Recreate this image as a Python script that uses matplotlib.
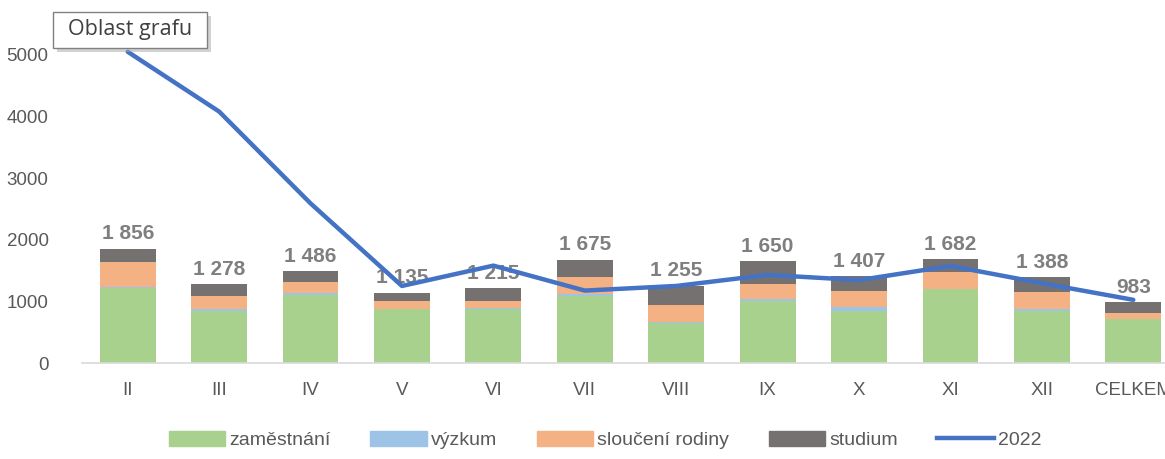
#!/usr/bin/env python
# -*- encoding: utf-8 -*-

'''stacked bars per month with 2022 line'''

import matplotlib
matplotlib.use('Agg')
import matplotlib.pyplot as plt
from matplotlib.patches import Patch, Rectangle
from matplotlib.lines import Line2D

plt.rcParams['font.family'] = ['Liberation Sans', 'DejaVu Sans']

months = ['II', 'III', 'IV', 'V', 'VI', 'VII', 'VIII', 'IX', 'X', 'XI', 'XII', 'CELKEM']
zamestnani = [1220, 845, 1100, 870, 875, 1090, 645, 1010, 840, 1200, 840, 715]
vyzkum = [10, 25, 30, 10, 10, 30, 25, 30, 65, 5, 30, 5]
slouceni = [415, 225, 190, 120, 120, 280, 270, 235, 260, 265, 290, 95]
studium = [211, 183, 166, 135, 210, 275, 315, 375, 242, 212, 228, 168]
totals = [1856, 1278, 1486, 1135, 1215, 1675, 1255, 1650, 1407, 1682, 1388, 983]
line_2022 = [5050, 4080, 2590, 1250, 1580, 1175, 1250, 1430, 1345, 1575, 1295, 1025]

c_green = '#A9D18E'
c_blue = '#9DC3E6'
c_orange = '#F4B183'
c_grey = '#767171'
c_line = '#4472C4'
c_text = '#595959'

W, H = 1165, 459


def plot(pic_name):
    fig = plt.figure(figsize=(W / 100, H / 100), dpi=100)
    ax = fig.add_axes([82 / W, 96 / H, 1097 / W, 363 / H])
    x = list(range(len(months)))
    w = 0.61

    bottom = [0] * len(x)
    for vals, col in [(zamestnani, c_green), (vyzkum, c_blue),
                      (slouceni, c_orange), (studium, c_grey)]:
        ax.bar(x, vals, w, bottom=bottom, color=col, zorder=2)
        bottom = [b + v for b, v in zip(bottom, vals)]

    for xi, top, t in zip(x, bottom, totals):
        ax.annotate('{:,}'.format(t).replace(',', ' '), (xi, top),
                    xytext=(0, 4), textcoords='offset points',
                    ha='center', va='bottom', fontsize=15, fontweight='bold',
                    color='#7F7F7F', zorder=3)

    ax.plot(x, line_2022, color=c_line, lw=3.2, zorder=4,
            solid_capstyle='round', solid_joinstyle='round')

    ax.set_xlim(-0.5, len(x) - 0.5)
    ax.set_ylim(0, 5890)
    ax.set_yticks(range(0, 5001, 1000))
    ax.set_xticks(x)
    ax.set_xticklabels(months)
    for s in ['top', 'right', 'left']:
        ax.spines[s].set_visible(False)
    ax.spines['bottom'].set_color('#D9D9D9')
    ax.spines['bottom'].set_linewidth(1.2)
    ax.tick_params(axis='both', length=0, labelsize=13.5, colors=c_text)
    ax.tick_params(axis='x', pad=14)
    ax.tick_params(axis='y', pad=24)

    handles = [Patch(color=c_green), Patch(color=c_blue),
               Patch(color=c_orange), Patch(color=c_grey),
               Line2D([], [], color=c_line, lw=3.2)]
    labels = ['zaměstnání', 'výzkum', 'sloučení rodiny', 'studium', '2022']
    fig.legend(handles, labels, loc='center', ncol=5,
               bbox_to_anchor=(605 / W, 19 / H), frameon=False,
               fontsize=14, labelcolor=c_text, handlelength=2.9,
               handleheight=0.8, handletextpad=0.2, columnspacing=2.05)

    # tooltip box with a soft shadow
    bx, by, bw, bh = 53, 12, 154, 36
    fig.patches.append(Rectangle(((bx + 4) / W, 1 - (by + bh + 4) / H),
                                 bw / W, bh / H, transform=fig.transFigure,
                                 fc='#A6A6A6', ec='none', alpha=0.5, zorder=5))
    fig.patches.append(Rectangle((bx / W, 1 - (by + bh) / H),
                                 bw / W, bh / H, transform=fig.transFigure,
                                 fc='white', ec='#808080', lw=1, zorder=6))
    fig.text((bx + bw / 2) / W, 1 - (by + bh / 2) / H, 'Oblast grafu',
             fontsize=15.5, color='#404040', va='center', ha='center',
             family=['Open Sans', 'DejaVu Sans'], zorder=7)

    fig.savefig(pic_name, dpi=100)


def main():
    plot('out.png')


if __name__ == '__main__':
    main()
